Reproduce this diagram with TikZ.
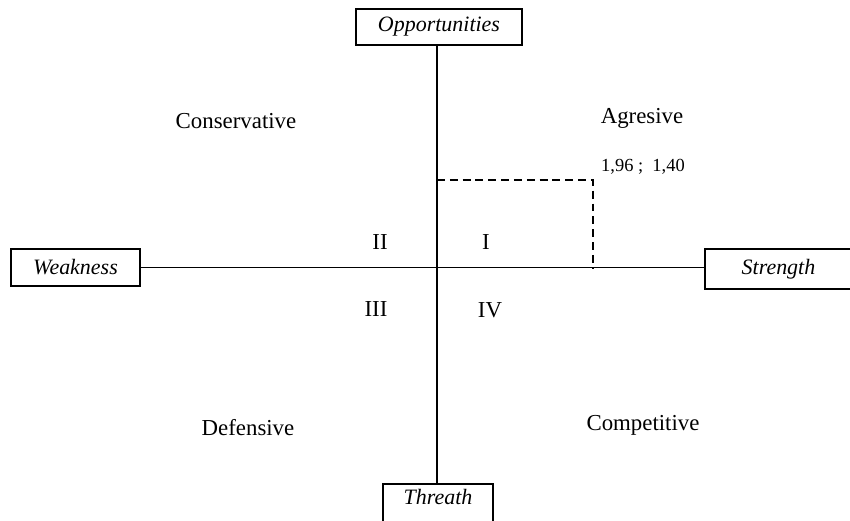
\documentclass[tikz,border=0pt]{standalone}
\usepackage{fontspec}
\setmainfont{Liberation Serif}
\usetikzlibrary{positioning}
\tikzset{
    axisbox/.style={
    rectangle,draw=black,line width=0.8pt,font=\fontsize{12.5}{14}\itshape,inner sep=0pt
    },
    quadrant/.style={
    font=\fontsize{13}{15}\selectfont
    },
    numeral/.style={
    font=\fontsize{13}{15}\selectfont
    },
    axis/.style={
    draw=black,line width=0.8pt
    },
    position/.style={
    draw=black,dashed,line width=1.6pt,dash pattern=on 4.5pt off 2.8pt
    },
}
\begin{document}
\begin{tikzpicture}[x=0.02cm, y=-0.02cm]
  \useasboundingbox (0,0) rectangle (850,521);
   \node[axisbox,minimum width=3.32cm,minimum height=0.72cm] (opp) at (439,27) {Opportunities};
   \node[axisbox,minimum width=2.58cm,minimum height=0.74cm] (weak) at (75.5,267.5) {Weakness};
   \node[axisbox,minimum width=2.94cm,minimum height=0.8cm] (str) at (778.5,269) {Strength};
   \node[axisbox,minimum width=2.2cm,minimum height=0.92cm] (thr) at (438,507) {};
   \node[font=\fontsize{12.5}{14}\itshape] (thrlabel) at (438,497) {Threath};

   \coordinate (origin) at (437,268);
   \coordinate (pty) at (437,180);
   \coordinate (pcorner) at (593,180);
   \coordinate (ptx) at (593,268);

  \path[axis]
    (opp.south -| origin) -- (thr.north -| origin)
    (weak.east) -- (weak.east -| str.west);
  \draw[position] (pty) -- (pcorner) -- (ptx);

   \node[font=\fontsize{10.5}{12}\selectfont,anchor=west] (point) at (595,167) {1,96 ;\ \ 1,40};

   \node[quadrant] (cons) at (236,121) {Conservative};
   \node[quadrant] (agr) at (642,118) {Agresive};
   \node[quadrant] (def) at (248,428) {Defensive};
   \node[quadrant] (comp) at (643,425) {Competitive};

   \node[numeral] (q2) at (380,242) {II};
   \node[numeral] (q1) at (486,242) {I};
   \node[numeral] (q3) at (376,309) {III};
   \node[numeral] (q4) at (490,310) {IV};
\end{tikzpicture}
\end{document}
